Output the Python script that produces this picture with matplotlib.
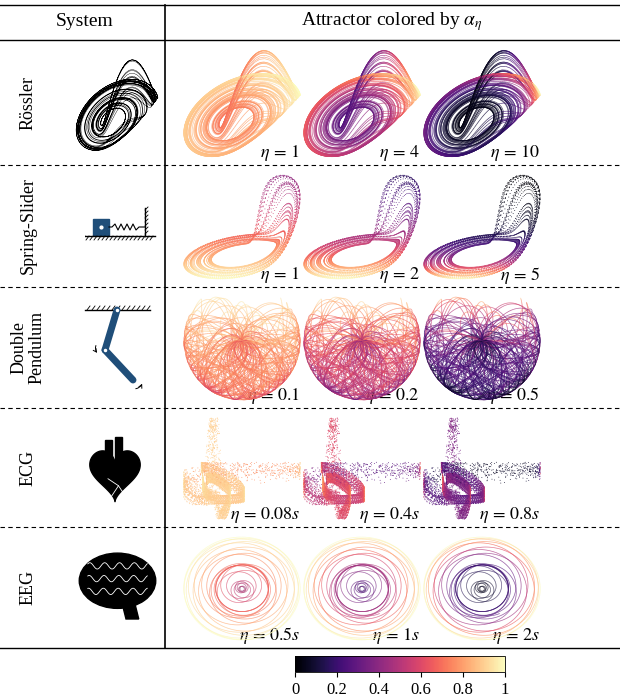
import numpy as np
import matplotlib.pyplot as plt
from matplotlib.collections import LineCollection
from matplotlib.patches import Rectangle, Polygon, Ellipse, FancyArrowPatch

plt.rcParams['font.family'] = 'Liberation Serif'
plt.rcParams['mathtext.fontset'] = 'stix'

# row data
systems = ['Rössler', 'Spring-Slider', 'Double\nPendulum', 'ECG', 'EEG']
eta_vals = [[1, 4, 10], [1, 2, 5], [0.1, 0.2, 0.5], [0.08, 0.4, 0.8], [0.5, 1, 2]]
eta_labels = [['1', '4', '10'], ['1', '2', '5'], ['0.1', '0.2', '0.5'],
              ['0.08s', '0.4s', '0.8s'], ['0.5s', '1s', '2s']]
eta_scale = [0.35, 0.9, 6.0, 3.5, 1.4]
cbar_ticks = [0, 0.2, 0.4, 0.6, 0.8, 1]
cbar_ticklabels = ['0', '0.2', '0.4', '0.6', '0.8', '1']

# system parameters
rossler_abc = (0.2, 0.2, 5.7)
slider_abc = (0.1, 0.1, 14.0)
pend_init = [2.2, 2.6, 0.0, 0.0]
eeg_amps = [1.0, 0.45, 0.25, 0.15]
eeg_freqs = [1.0, 1.07, 0.93, 1.21]
ecg_waves = [(-0.2, 0.25, 1.2), (-0.05, 0.1, -0.3), (0.0, 0.05, 3.0), (0.05, 0.1, -0.6), (0.3, 0.3, 0.8)]

W, H = 620, 700
fig = plt.figure(figsize=(6.2, 7.0), dpi=100)
bg = fig.add_axes([0, 0, 1, 1])
bg.set_xlim(0, W); bg.set_ylim(H, 0); bg.axis('off')


def rk4(f, y0, dt, n, skip):
    y = np.array(y0, float)
    out = []
    for i in range(n + skip):
        k1 = f(y); k2 = f(y + dt/2*k1); k3 = f(y + dt/2*k2); k4 = f(y + dt*k3)
        y = y + dt/6*(k1 + 2*k2 + 2*k3 + k4)
        if i >= skip:
            out.append(y.copy())
    return np.array(out)


def rossler(p):
    a, b, c = p
    return lambda s: np.array([-s[1]-s[2], s[0]+a*s[1], b+s[2]*(s[0]-c)])


def pendulum(s):
    t1, t2, w1, w2 = s
    d = t1 - t2
    den = 3 - np.cos(2*d)
    a1 = (-3*9.8*np.sin(t1) - 9.8*np.sin(t1-2*t2) - 2*np.sin(d)*(w2**2 + w1**2*np.cos(d))) / den
    a2 = (2*np.sin(d)*(2*w1**2 + 2*9.8*np.cos(t1) + w2**2*np.cos(d))) / den
    return np.array([w1, w2, a1, a2])


def norm(v):
    return (v - v.min()) / (v.max() - v.min())


# trajectories
ro = rk4(rossler(rossler_abc), [1, 1, 0], 0.04, 12000, 1000)
ro_xy = np.c_[ro[:, 0] - 0.3*ro[:, 1], -ro[:, 1]*0.4 + ro[:, 2]*0.3]
ro_d = norm(np.hypot(ro[:, 0], ro[:, 1]))

sl = rk4(rossler(slider_abc), [1, 1, 0], 0.02, 12000, 2000)
sl_xy = np.c_[sl[:, 0] + 0.4*sl[:, 1], np.log(sl[:, 2] + 0.05) * 3 + sl[:, 1]*0.3]
sl_d = norm(sl_xy[:, 1])

pe = rk4(pendulum, pend_init, 0.01, 12000, 0)
pe_xy = np.c_[np.sin(pe[:, 0]) + np.sin(pe[:, 1]), -np.cos(pe[:, 0]) - np.cos(pe[:, 1])]
pe_d = norm(np.hypot(pe[:, 2], pe[:, 3]))

t = np.arange(0, 60, 0.004)
rr = 1.0 + 0.12*np.sin(0.3*t) + 0.05*np.sin(1.7*t)
phase = np.cumsum(0.004/rr) % 1.0 - 0.5
ecg = np.zeros_like(t)
for mu, sd, amp in ecg_waves:
    ecg += amp*np.exp(-(phase - mu)**2/(2*(sd/3)**2))
lag = 40
ec_xy = np.c_[ecg[lag:], ecg[:-lag] + 0.15*np.sin(0.9*t[lag:])]
ec_d = norm(np.abs(np.gradient(ecg))[lag:])**0.3

te = np.arange(0, 150, 0.02)
env = 0.25 + 0.75*np.sin(0.07*te)**4
ex = sum(a*np.cos(f*te) for a, f in zip(eeg_amps, eeg_freqs)) * env
ey = sum(a*np.sin(f*te) for a, f in zip(eeg_amps, eeg_freqs)) * env
ee_xy = np.c_[ex, ey]
ee_d = norm(np.hypot(ex, ey))

data = [(ro_xy, 1 - ro_d, 'line'), (sl_xy, sl_d, 'dots'), (pe_xy, pe_d, 'line'),
        (ec_xy, ec_d, 'dots'), (ee_xy, 1 - ee_d, 'line')]

# table frame
row_edges = [40, 165, 287, 408, 527, 648]
bg.plot([0, W], [5, 5], 'k', lw=1)
bg.plot([0, W], [40, 40], 'k', lw=1)
bg.plot([0, W], [648, 648], 'k', lw=1)
bg.plot([165, 165], [5, 648], 'k', lw=1.2)
for y in row_edges[1:-1]:
    bg.plot([0, W], [y, y], 'k--', lw=0.8, dashes=(4, 3))
bg.text(85, 22, 'System', ha='center', va='center', fontsize=14)
bg.text(392, 22, r'Attractor colored by $\alpha_\eta$', ha='center', va='center', fontsize=14)

cmap = plt.get_cmap('magma')
for r in range(5):
    top, bot = row_edges[r], row_edges[r+1]
    bg.text(28, (top+bot)/2, systems[r], rotation=90, ha='center', va='center', fontsize=13, linespacing=1.1)
    xy, d, kind = data[r]
    for j in range(3):
        ax = fig.add_axes([(178 + j*120)/W, 1 - (bot - 3)/H, 128/W, (bot - top - 8)/H])
        ax.axis('off')
        c = np.exp(-eta_scale[r]*eta_vals[r][j]*d)
        if kind == 'line':
            seg = np.stack([xy[:-1], xy[1:]], axis=1)
            lc = LineCollection(seg, colors=cmap(c[:-1]), linewidths=0.5, alpha=0.8)
            ax.add_collection(lc)
            ax.autoscale()
        else:
            ax.scatter(xy[::2, 0], xy[::2, 1], c=c[::2], cmap='magma', vmin=0, vmax=1, s=0.4, lw=0)
        bg.text(178 + j*120 + 122, bot - 12, r'$\eta\, =\, %s$' % eta_labels[r][j].replace('s', r'\mathit{s}'),
                ha='right', va='center', fontsize=13)

# icons
blue = '#1f4e79'
ia = fig.add_axes([72/W, 1 - 155/H, 90/W, 100/H]); ia.axis('off')
ia.plot(ro_xy[:6000, 0], ro_xy[:6000, 1], 'k', lw=0.3)

ia = fig.add_axes([85/W, 1 - 280/H, 80/W, 100/H]); ia.axis('off')
ia.set_xlim(0, 80); ia.set_ylim(0, 100); ia.set_aspect('equal', adjustable='box')
ia.add_patch(Rectangle((8, 45), 16, 16, color=blue))
ia.plot(16, 53, 'wo', ms=2)
ia.plot([0, 70], [44, 44], 'k', lw=1)
for x in range(0, 70, 4):
    ia.plot([x, x-3], [44, 40], 'k', lw=0.6)
zx = np.linspace(24, 60, 13)
zy = 53 + np.array([0, 0, 3, -3, 3, -3, 3, -3, 3, -3, 0, 0, 0])
ia.plot(zx, zy, 'k', lw=0.8)
ia.plot([60, 60], [44, 72], 'k', lw=1)
for y in range(46, 72, 4):
    ia.plot([60, 63], [y, y+3], 'k', lw=0.6)

ia = fig.add_axes([75/W, 1 - 405/H, 85/W, 110/H]); ia.axis('off')
ia.set_xlim(0, 85); ia.set_ylim(0, 110); ia.set_aspect('equal', adjustable='box')
ia.plot([10, 75], [95, 95], 'k', lw=1)
for x in range(12, 76, 5):
    ia.plot([x, x+3], [95, 99], 'k', lw=0.6)
ia.plot([42, 30], [95, 55], color=blue, lw=5, solid_capstyle='round')
ia.plot([30, 58], [55, 25], color=blue, lw=5, solid_capstyle='round')
ia.plot([42, 30], [95, 55], 'wo', ms=1.5)
ia.add_patch(FancyArrowPatch((22, 62), (24, 50), connectionstyle='arc3,rad=0.4', arrowstyle='->', mutation_scale=6, lw=0.7))
ia.add_patch(FancyArrowPatch((58, 16), (68, 24), connectionstyle='arc3,rad=0.4', arrowstyle='->', mutation_scale=6, lw=0.7))

ia = fig.add_axes([80/W, 1 - 515/H, 70/W, 90/H]); ia.axis('off')
ht = np.linspace(0, 2*np.pi, 200)
hx = 16*np.sin(ht)**3
hy = 13*np.cos(ht) - 5*np.cos(2*ht) - 2*np.cos(3*ht) - np.cos(4*ht)
ia.add_patch(Polygon(np.c_[hx*0.9, hy], color='k'))
ia.add_patch(Rectangle((-6, 2), 4, 16, color='k'))
ia.add_patch(Rectangle((0, 2), 4, 18, color='k'))
ia.plot([-4, 2, 6], [-4, -8, -14], 'w', lw=0.6)
ia.plot([2, -2], [-8, -14], 'w', lw=0.6)
ia.set_xlim(-20, 20); ia.set_ylim(-20, 22); ia.set_aspect('equal', adjustable='box')

ia = fig.add_axes([75/W, 1 - 635/H, 85/W, 100/H]); ia.axis('off')
ia.add_patch(Ellipse((0, 0), 36, 26, color='k'))
ia.add_patch(Polygon([[2, -10], [8, -10], [10, -18], [4, -18]], color='k'))
sq = np.linspace(-14, 14, 60)
for off in (-5, 1, 7):
    ia.plot(sq, off + 1.5*np.sin(sq*0.9 + off), 'w', lw=0.6)
ia.set_xlim(-20, 20); ia.set_ylim(-22, 18); ia.set_aspect('equal', adjustable='box')

# colorbar
cax = fig.add_axes([295/W, 1 - 672/H, 210/W, 16/H])
sm = plt.cm.ScalarMappable(cmap='magma', norm=plt.Normalize(0, 1))
cb = fig.colorbar(sm, cax=cax, orientation='horizontal', ticks=cbar_ticks)
cb.ax.set_xticklabels(cbar_ticklabels, fontsize=12)
cb.outline.set_linewidth(0.6)

fig.savefig('out.png', dpi=100)
